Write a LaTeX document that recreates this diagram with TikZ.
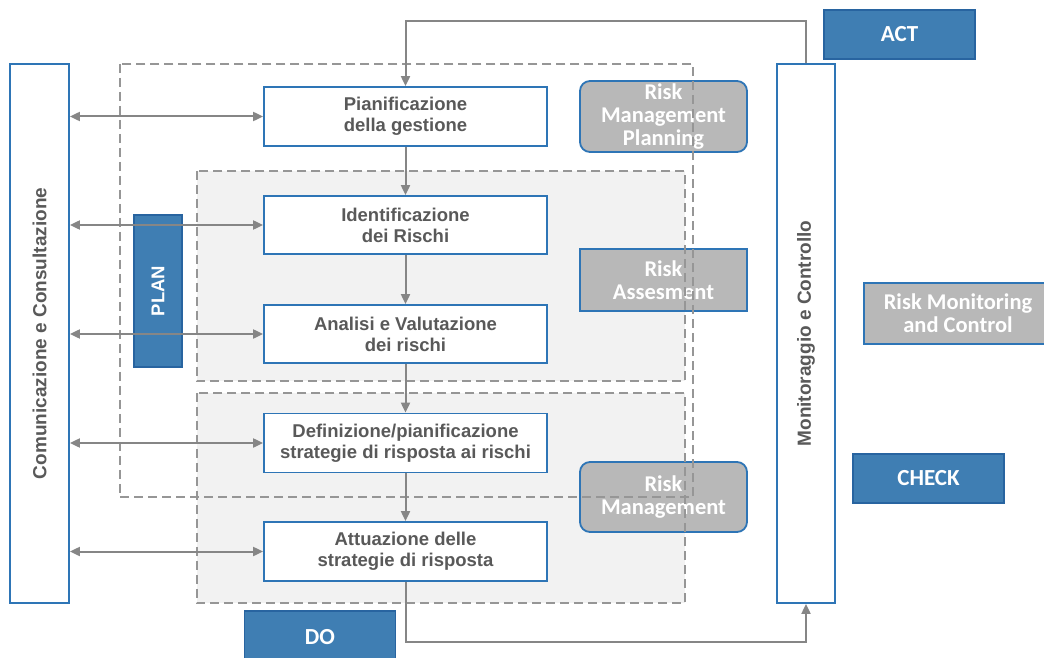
\documentclass[tikz,border=0pt]{standalone}
\usepackage{fontspec}
\setmainfont{Liberation Sans}
\newfontfamily\calfont{Carlito}
\usetikzlibrary{arrows.meta}

\definecolor{edgeblue}{RGB}{46,117,182}
\definecolor{solidblue}{RGB}{63,126,179}
\definecolor{darkedge}{RGB}{40,100,160}
\definecolor{riskgray}{RGB}{184,184,184}
\definecolor{arrowgray}{RGB}{134,134,134}
\definecolor{dashgray}{RGB}{150,150,150}
\definecolor{zonefill}{RGB}{242,242,242}
\definecolor{txtgray}{RGB}{89,89,89}

\tikzset{
  procbox/.style={draw=edgeblue, line width=1.8pt, fill=white, inner sep=0pt,
    align=center, text=txtgray,
    font=\fontsize{18.5}{21}\selectfont\bfseries},
  sidebar/.style={procbox, rotate=90, font=\fontsize{19}{21}\selectfont\bfseries},
  riskbox/.style={draw=edgeblue, line width=1.8pt, fill=riskgray, inner sep=0pt,
    align=center, text=white, font=\calfont\fontsize{22.5}{23}\selectfont\bfseries},
  riskround/.style={riskbox, rounded corners=10pt},
  phasebox/.style={draw=darkedge, line width=1.2pt, fill=solidblue, inner sep=0pt,
    text=white, font=\calfont\fontsize{23}{24}\selectfont\bfseries},
  zone/.style={inner sep=0pt, fill=zonefill},
  dashline/.style={draw=dashgray, line width=1.6pt, dash pattern=on 9pt off 5pt},
  flow/.style={draw=arrowgray, line width=2pt, -{Triangle[length=10pt,width=9pt]}},
  twoway/.style={draw=arrowgray, line width=2pt,
    {Triangle[length=10pt,width=9pt]}-{Triangle[length=10pt,width=9pt]}}
}

\begin{document}
\begin{tikzpicture}[x=1pt,y=-1pt]
\useasboundingbox (0,0) rectangle (1044,658);

% shaded phase zones and the planning frame
\node[zone, minimum width=488, minimum height=210] (assess) at (441,276) {};
\node[zone, minimum width=488, minimum height=210] (manage) at (441,498) {};
\node[inner sep=0pt, minimum width=573, minimum height=433] (planframe) at (406.5,280.5) {};

% risk labels
\node[riskround, minimum width=167, minimum height=71] (rmp) at (663.5,116.5) {Risk\\Management\\Planning};
\node[riskbox, minimum width=167, minimum height=62] (ras) at (663.5,280) {Risk\\Assesment};
\node[riskround, minimum width=167, minimum height=70] (rmg) at (663.5,497) {Risk\\Management};
\node[riskbox, minimum width=188, minimum height=61] (rmc) at (958,313.5) {Risk Monitoring\\and Control};

% dashed outlines
\draw[dashline] (assess.north west) rectangle (assess.south east);
\draw[dashline] (manage.north west) rectangle (manage.south east);
\draw[dashline] (planframe.north west) rectangle (planframe.south east);

% PDCA phase labels
\node[phasebox, minimum width=151, minimum height=49] (act) at (899.5,34.5) {ACT};
\node[phasebox, minimum width=151, minimum height=49] (check) at (928.5,478.5) {CHECK};
\node[phasebox, minimum width=151, minimum height=52] (do) at (320,637) {DO};
\node[phasebox, rotate=90, minimum width=152, minimum height=48,
  font=\fontsize{18.5}{21}\selectfont\bfseries] (plan) at (158,291) {PLAN};

% side bars
\node[sidebar, minimum width=539, minimum height=59] (com) at (39.5,333.5) {Comunicazione e Consultazione};
\node[sidebar, minimum width=539, minimum height=58] (mon) at (806,333.5) {Monitoraggio e Controllo};

% process steps
\node[procbox, minimum width=283, minimum height=59] (p1) at (405.5,116.5) {Pianificazione\\della gestione};
\node[procbox, minimum width=283, minimum height=58] (p2) at (405.5,225) {Identificazione\\dei Rischi};
\node[procbox, minimum width=283, minimum height=58] (p3) at (405.5,334) {Analisi e Valutazione\\dei rischi};
\node[procbox, minimum width=283, minimum height=59] (p4) at (405.5,443) {Definizione/pianificazione\\strategie di risposta ai rischi};
\node[procbox, minimum width=283, minimum height=59] (p5) at (405.5,551.5) {Attuazione delle\\strategie di risposta};

% sequence
\draw[flow] (p1) -- (p2);
\draw[flow] (p2) -- (p3);
\draw[flow] (p3) -- (p4);
\draw[flow] (p4) -- (p5);

% feedback loops
\coordinate (loopTop) at (806,21);
\coordinate (loopBot) at (806,642);
\draw[flow] (mon.east) -- (loopTop) -| (p1.north);
\draw[flow] (p5.south) |- (loopBot) -- (mon.west);

% communication links
\draw[twoway] (p1.west -| com.south) -- (p1.west);
\draw[twoway] (p2.west -| com.south) -- (p2.west);
\draw[twoway] (p3.west -| com.south) -- (p3.west);
\draw[twoway] (p4.west -| com.south) -- (p4.west);
\draw[twoway] (p5.west -| com.south) -- (p5.west);
\end{tikzpicture}
\end{document}
